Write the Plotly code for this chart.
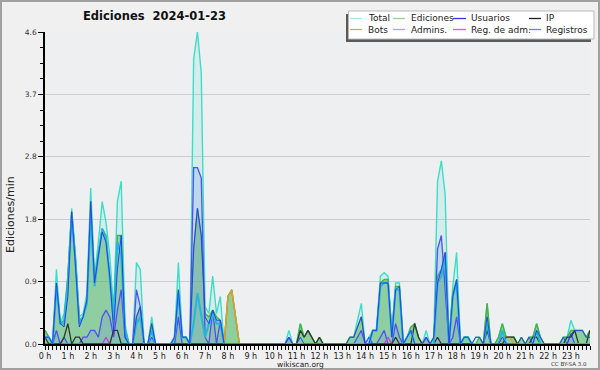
import plotly.graph_objects as go

# ---------------- data (10-minute buckets, edits/min) ----------------
hour_labels = [f"{h} h" for h in range(24)]
y_tick_vals = [0, 0.92, 1.84, 2.76, 3.68, 4.6]
y_tick_text = ["0.0", "0.9", "1.8", "2.8", "3.7", "4.6"]

total = [
    .2, .1, 0, 1.1, .3, .45,   1.0, 2.0, 1.3, .4, .45, .75,   2.3, 1.0, 1.5, 2.1, 1.8, 1.3,
    .5, 2.1, 2.4, .3, 0, 0,    1.2, 1.1, 0, 0, .4, 0,        0, 0, 0, 0, .1, 1.2,
    .1, .1, 0, 4.2, 4.6, 4.0,  .55, .45, 1.0, .45, .7, 0,    .7, .8, .4, 0, 0, 0,
    0, 0, 0, 0, 0, 0,          0, 0, 0, 0, .2, 0,            0, .3, .1, .2, .1, 0,
    .1, 0, 0, 0, 0, 0,         0, 0, .1, .1, .35, .6,        0, .1, .2, .2, 1.0, 1.05,
    1.0, .15, .9, .9, 0, .1,   .25, .3, .1, 0, .2, 0,        .1, 2.4, 2.7, 2.2, 0, .85,
    1.35, 0, .1, .1, 0, .1,    .1, 0, .6, 0, 0, .1,          .3, .1, .1, .1, 0, .1,
    0, .1, .1, .3, .1, 0,      0, 0, 0, 0, .1, .1,           .35, .2, .2, .2, .1, .2,
]
ediciones = [
    .2, .1, 0, .9, .3, .35,    1.0, 1.95, 1.25, .35, .4, .65, 2.1, .9, 1.35, 1.7, 1.6, 1.0,
    .4, 1.6, 1.6, .2, 0, 0,    .4, .55, 0, 0, .3, 0,         0, 0, 0, 0, .1, .8,
    .1, .1, 0, 1.4, 2.0, 1.6,  .45, .4, .5, .4, .35, 0,      .7, .8, .4, 0, 0, 0,
    0, 0, 0, 0, 0, 0,          0, 0, 0, 0, .1, 0,            0, .3, .1, .2, .1, 0,
    .1, 0, 0, 0, 0, 0,         0, 0, .1, .1, .25, .4,        0, 0, .2, .2, .9, .95,
    .95, .15, .85, .85, 0, .1, .25, .3, .1, 0, .1, 0,        .1, 1.0, 1.1, 1.35, 0, .75,
    .95, 0, .1, .1, 0, 0,      .1, 0, .6, 0, 0, .1,          .3, .1, .1, .1, 0, .1,
    0, .1, .1, .3, .1, 0,      0, 0, 0, 0, .1, .1,           .2, .2, .2, .2, .1, .2,
]
usuarios = [
    .1, .1, 0, .9, .3, .25,    .7, 1.95, 1.15, .25, .4, .65, 2.1, .9, 1.3, 1.65, 1.5, 1.0,
    .2, 1.1, 1.6, .1, 0, 0,    .4, .55, 0, 0, .3, 0,         0, 0, 0, 0, .1, .8,
    .1, .1, 0, 1.4, 2.0, 1.6,  .4, .3, .5, .35, .35, 0,      0, 0, 0, 0, 0, 0,
    0, 0, 0, 0, 0, 0,          0, 0, 0, 0, .1, 0,            0, .1, 0, 0, 0, 0,
    0, 0, 0, 0, 0, 0,          0, 0, .1, .1, .25, .4,        0, 0, .2, .2, .9, .9,
    .9, .1, .8, .85, 0, .1,    .2, 0, 0, 0, .1, 0,           .1, .9, 1.1, 1.35, 0, .7,
    .95, 0, .1, .1, 0, .1,     .1, 0, .4, 0, 0, 0,           .1, 0, 0, 0, 0, .1,
    0, .1, 0, .2, .1, 0,       0, 0, 0, 0, .1, 0,            .15, .2, .2, .2, .1, .1,
]
admins = [
    .1, .1, 0, .85, .3, .3,    .9, 1.9, 1.2, .3, .4, .6,     1.9, .85, 1.3, 1.7, 1.55, 1.0,
    .35, 1.5, 1.3, .2, 0, 0,   .3, .4, 0, 0, .2, 0,          0, 0, 0, 0, .1, .75,
    .1, .1, 0, .3, .75, .45,   .1, .3, .45, .3, .3, 0,       0, 0, 0, 0, 0, 0,
    0, 0, 0, 0, 0, 0,          0, 0, 0, 0, 0, 0,             0, 0, 0, 0, 0, 0,
    0, 0, 0, 0, 0, 0,          0, 0, 0, 0, 0, 0,             0, 0, .2, .2, .85, .9,
    .9, .1, .8, .8, 0, .1,     .2, 0, 0, 0, 0, 0,            0, .9, 1.0, 1.3, 0, .7,
    .9, 0, .1, .1, 0, 0,       0, 0, .3, 0, 0, 0,            .2, 0, 0, 0, 0, 0,
    0, 0, 0, .2, 0, 0,         0, 0, 0, 0, 0, 0,             0, 0, 0, 0, 0, 0,
]
ip = [
    .1, 0, 0, 0, 0, .1,        .3, 0, .1, .1, 0, 0,          0, 0, 0, 0, 0, 0,
    .2, .2, 0, 0, 0, 0,        0, 0, 0, 0, 0, 0,             0, 0, 0, 0, 0, 0,
    0, 0, 0, 0, 0, 0,          0, 0, 0, 0, 0, 0,             0, 0, 0, 0, 0, 0,
    0, 0, 0, 0, 0, 0,          0, 0, 0, 0, 0, 0,             0, .2, .1, .2, .1, 0,
    .1, 0, 0, 0, 0, 0,         0, 0, 0, 0, 0, 0,             0, 0, 0, 0, 0, 0,
    0, 0, .1, 0, 0, 0,         0, .3, .1, 0, 0, 0,           0, .1, 0, 0, 0, 0,
    0, 0, 0, 0, 0, 0,          0, 0, .2, 0, 0, 0,            0, .1, .1, .1, 0, 0,
    0, 0, .1, .1, 0, 0,        0, 0, 0, 0, 0, .1,            .1, .2, 0, 0, 0, .2,
]
registros = [
    0, 0, 0, .2, 0, .1,        0, 0, 0, 0, .1, .1,           .2, .2, .1, .4, .5, .4,
    .1, .5, .8, .1, 0, 0,      .8, .55, 0, 0, .1, 0,         0, 0, 0, 0, 0, .4,
    0, 0, 0, 2.6, 2.6, 2.45,   .1, 0, .5, 0, .35, 0,         0, 0, 0, 0, 0, 0,
    0, 0, 0, 0, 0, 0,          0, 0, 0, 0, .1, 0,            0, 0, 0, 0, 0, 0,
    0, 0, 0, 0, 0, 0,          0, 0, 0, 0, .1, .2,           0, .1, 0, 0, .1, .2,
    0, 0, .3, .1, 0, 0,        0, 0, 0, 0, .1, 0,            0, 1.4, 1.6, .85, 0, .1,
    .4, 0, 0, 0, 0, 0,         0, 0, 0, 0, 0, 0,             0, 0, 0, 0, 0, 0,
    0, 0, 0, 0, 0, 0,          0, 0, 0, 0, 0, 0,             .15, 0, 0, 0, 0, 0,
]
bots = [0] * 48 + [.7, .8, .4] + [0] * 69 + [.1, .1, .1] + [0] * 21
reg_adm = [0] * 16 + [.1] + [0] * 73 + [.1] + [0] * 53

x = [i / 6 for i in range(144)]

# ---------------- figure ----------------
W, H = 600, 370
L, R, T, B = 45, 10, 32, 26
PW, PH = W - L - R, H - T - B


def px(xp):
    return (xp - L) / PW


def py(yp):
    return (H - B - yp) / PH


fig = go.Figure()
fig.add_trace(go.Scatter(x=x, y=total, mode="lines", fill="tozeroy",
                         fillcolor="rgba(64,224,208,0.15)",
                         line=dict(color="#40dcc8", width=1.4), hoverinfo="skip"))
fig.add_trace(go.Scatter(x=x, y=ediciones, mode="lines", fill="tozeroy",
                         fillcolor="rgba(60,170,70,0.45)",
                         line=dict(color="#44b444", width=1.4), hoverinfo="skip"))
fig.add_trace(go.Scatter(x=x, y=registros, mode="lines", fill="tozeroy",
                         fillcolor="rgba(110,140,230,0.22)",
                         line=dict(color="#5050f0", width=1.3), hoverinfo="skip"))
fig.add_trace(go.Scatter(x=x, y=bots, mode="lines",
                         line=dict(color="#f09a20", width=1.4), hoverinfo="skip"))
fig.add_trace(go.Scatter(x=x, y=reg_adm, mode="lines",
                         line=dict(color="#c040e0", width=1.3), hoverinfo="skip"))
fig.add_trace(go.Scatter(x=x, y=ip, mode="lines",
                         line=dict(color="#303830", width=1.3), hoverinfo="skip"))
fig.add_trace(go.Scatter(x=x, y=admins, mode="lines",
                         line=dict(color="#20b8e0", width=2.0), hoverinfo="skip"))
fig.add_trace(go.Scatter(x=x, y=usuarios, mode="lines",
                         line=dict(color="#2a40ee", width=1.0), hoverinfo="skip"))

tick_x = [i / 6 for i in range(144)]
tick_t = [hour_labels[i // 6] if i % 6 == 0 else "" for i in range(144)]

font_main = "DejaVu Sans"

fig.update_layout(
    width=W, height=H, showlegend=False,
    margin=dict(l=L, r=R, t=T, b=B, pad=0),
    paper_bgcolor="#f0f0f0", plot_bgcolor="#eeeff1",
    font=dict(family=font_main, color="#222222"),
    xaxis=dict(range=[0, 143 / 6], tickmode="array", tickvals=tick_x, ticktext=tick_t,
               ticks="outside", ticklen=4, tickwidth=1, tickcolor="black",
               showline=True, linecolor="black", linewidth=1.5,
               showgrid=False, zeroline=False, fixedrange=True,
               tickfont=dict(size=8, color="#222222", family=font_main)),
    yaxis=dict(range=[0, 4.6], tickmode="array", tickvals=y_tick_vals, ticktext=y_tick_text,
               ticks="outside", ticklen=5, tickwidth=1, tickcolor="black",
               showline=True, linecolor="black", linewidth=1.5,
               showgrid=True, gridcolor="#cccccc", gridwidth=1, zeroline=False,
               minor=dict(tickmode="linear", tick0=0, dtick=0.23, ticks="outside",
                          ticklen=3, tickcolor="black", showgrid=False),
               tickfont=dict(size=7.5, color="#333333", family=font_main)),
)

shapes = []
annotations = []
# outer border
shapes.append(dict(type="rect", xref="paper", yref="paper", x0=px(1), x1=px(599), y0=py(1), y1=py(369),
                   line=dict(color="#a0a0a0", width=2), layer="above"))
# legend shadow + box
shapes.append(dict(type="rect", xref="paper", yref="paper", x0=px(346), x1=px(591), y0=py(14), y1=py(42),
                   fillcolor="#5a5a5a", line=dict(width=0), layer="above"))
shapes.append(dict(type="rect", xref="paper", yref="paper", x0=px(348.5), x1=px(594), y0=py(11), y1=py(39),
                   fillcolor="white", line=dict(color="#b8b8b8", width=1), layer="above"))

legend_names = [["Total", "Ediciones", "Usuarios", "IP"],
                ["Bots", "Admins.", "Reg. de adm.", "Registros"]]
legend_colors = [["#a8e8e0", "#90d890", "#3838d8", "#202020"],
                 ["#f0a040", "#58d0e0", "#d060e0", "#7878f0"]]
sw_x = [(350, 362), (393, 405), (453, 466), (529, 541)]
tx_x = [366, 408.5, 469, 544]
row_y = [18.5, 29.5]
for r in range(2):
    for c in range(4):
        shapes.append(dict(type="line", xref="paper", yref="paper",
                           x0=px(sw_x[c][0]), x1=px(sw_x[c][1]), y0=py(row_y[r]), y1=py(row_y[r]),
                           line=dict(color=legend_colors[r][c], width=1.3), layer="above"))
        annotations.append(dict(text=legend_names[r][c], xref="paper", yref="paper",
                                x=px(tx_x[c]), y=py(row_y[r]), xanchor="left", yanchor="middle",
                                showarrow=False, font=dict(size=9, color="#222222", family=font_main)))

annotations.append(dict(text="<b>Ediciones  2024-01-23</b>", xref="paper", yref="paper",
                        x=px(154), y=py(16), xanchor="center", yanchor="middle", showarrow=False,
                        font=dict(size=11.5, color="#111111", family=font_main)))
annotations.append(dict(text="Ediciones/min", xref="paper", yref="paper",
                        x=px(10), y=py(215), xanchor="center", yanchor="middle", showarrow=False,
                        textangle=-90, font=dict(size=11, color="#222222", family=font_main)))
annotations.append(dict(text="wikiscan.org", xref="paper", yref="paper",
                        x=px(300), y=py(364), xanchor="center", yanchor="middle", showarrow=False,
                        font=dict(size=7.5, color="#222222", family=font_main)))
annotations.append(dict(text="CC BY-SA 3.0", xref="paper", yref="paper",
                        x=px(589), y=py(363.5), xanchor="right", yanchor="middle", showarrow=False,
                        font=dict(size=5.5, color="#333333", family=font_main)))

fig.update_layout(shapes=shapes, annotations=annotations)
fig.write_html("out.html", config={"displayModeBar": False},
               post_script="document.body.style.margin='0px';document.body.style.overflow='hidden';")
